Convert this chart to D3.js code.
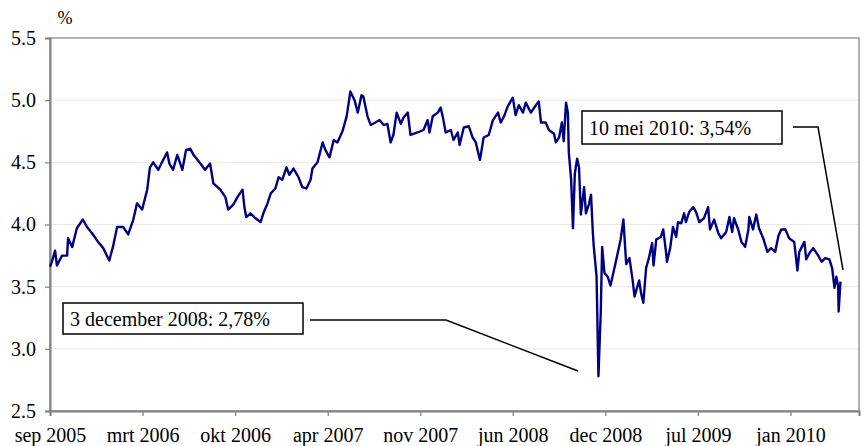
<!DOCTYPE html>
<html>
<head>
<meta charset="utf-8">
<script src="https://cdn.jsdelivr.net/npm/d3@7"></script>
<style>
  html, body { margin: 0; padding: 0; background: #fff; }
  svg { display: block; font-family: "Liberation Serif", "Times New Roman", serif; }
</style>
</head>
<body>
<svg id="chart" width="864" height="446"></svg>
<script>
// rente (%) per datum
const dates = [
  '2005-09-05', '2005-09-09', '2005-09-16', '2005-09-20', '2005-10-01', '2005-10-12', '2005-10-14', '2005-10-23',
  '2005-11-02', '2005-11-15', '2005-11-24', '2005-12-05', '2005-12-16', '2005-12-29', '2006-01-11', '2006-01-19',
  '2006-01-28', '2006-02-10', '2006-02-21', '2006-03-04', '2006-03-12', '2006-03-23', '2006-04-03', '2006-04-09',
  '2006-04-16', '2006-04-27', '2006-05-05', '2006-05-16', '2006-05-21', '2006-05-29', '2006-06-07', '2006-06-18',
  '2006-06-26', '2006-07-05', '2006-07-12', '2006-07-27', '2006-08-06', '2006-08-17', '2006-08-24', '2006-09-08',
  '2006-09-19', '2006-09-25', '2006-10-06', '2006-10-15', '2006-10-26', '2006-10-30', '2006-11-03', '2006-11-12',
  '2006-11-23', '2006-12-04', '2006-12-10', '2006-12-19', '2006-12-26', '2007-01-05', '2007-01-12', '2007-01-20',
  '2007-01-29', '2007-02-04', '2007-02-13', '2007-02-24', '2007-03-04', '2007-03-13', '2007-03-22', '2007-03-26',
  '2007-04-06', '2007-04-17', '2007-04-23', '2007-05-02', '2007-05-11', '2007-05-19', '2007-05-30', '2007-06-08',
  '2007-06-16', '2007-06-25', '2007-07-02', '2007-07-10', '2007-07-14', '2007-07-23', '2007-07-30', '2007-08-09',
  '2007-08-18', '2007-08-27', '2007-09-04', '2007-09-11', '2007-09-17', '2007-09-24', '2007-10-03', '2007-10-09',
  '2007-10-18', '2007-10-24', '2007-11-08', '2007-11-21', '2007-11-30', '2007-12-04', '2007-12-11', '2007-12-22',
  '2007-12-28', '2008-01-02', '2008-01-08', '2008-01-19', '2008-01-25', '2008-02-03', '2008-02-07', '2008-02-16',
  '2008-02-27', '2008-03-06', '2008-03-13', '2008-03-22', '2008-03-30', '2008-04-10', '2008-04-19', '2008-04-30',
  '2008-05-06', '2008-05-13', '2008-05-21', '2008-06-01', '2008-06-07', '2008-06-14', '2008-06-23', '2008-06-29',
  '2008-07-10', '2008-07-21', '2008-07-27', '2008-08-01', '2008-08-11', '2008-08-18', '2008-08-29', '2008-09-02',
  '2008-09-09', '2008-09-15', '2008-09-19', '2008-09-24', '2008-09-28', '2008-09-30', '2008-10-05', '2008-10-09',
  '2008-10-13', '2008-10-18', '2008-10-22', '2008-10-26', '2008-11-02', '2008-11-06', '2008-11-13', '2008-11-17',
  '2008-11-21', '2008-11-23', '2008-11-29', '2008-12-03', '2008-12-08', '2008-12-11', '2008-12-16', '2008-12-23',
  '2008-12-29', '2009-01-09', '2009-01-20', '2009-01-26', '2009-02-01', '2009-02-08', '2009-02-15', '2009-02-19',
  '2009-03-01', '2009-03-05', '2009-03-10', '2009-03-16', '2009-03-22', '2009-03-29', '2009-04-01', '2009-04-07',
  '2009-04-17', '2009-04-22', '2009-04-28', '2009-04-30', '2009-05-07', '2009-05-13', '2009-05-20', '2009-05-24',
  '2009-05-31', '2009-06-06', '2009-06-10', '2009-06-17', '2009-06-26', '2009-07-02', '2009-07-09', '2009-07-19',
  '2009-07-28', '2009-08-01', '2009-08-10', '2009-08-19', '2009-08-25', '2009-09-05', '2009-09-12', '2009-09-18',
  '2009-09-22', '2009-10-01', '2009-10-08', '2009-10-16', '2009-10-23', '2009-10-25', '2009-11-02', '2009-11-09',
  '2009-11-15', '2009-11-24', '2009-12-03', '2009-12-11', '2009-12-20', '2009-12-27', '2010-01-02', '2010-01-11',
  '2010-01-19', '2010-01-30', '2010-02-06', '2010-02-10', '2010-02-21', '2010-02-25', '2010-03-04', '2010-03-12',
  '2010-03-23', '2010-03-30', '2010-04-07', '2010-04-16', '2010-04-22', '2010-04-27', '2010-05-01', '2010-05-05',
  '2010-05-06', '2010-05-10',
];

const rates = [
  3.66, 3.70, 3.79, 3.67, 3.75, 3.75, 3.89, 3.82,
  3.97, 4.04, 3.98, 3.93, 3.87, 3.81, 3.71, 3.82,
  3.98, 3.98, 3.92, 4.04, 4.17, 4.12, 4.28, 4.46,
  4.50, 4.44, 4.50, 4.58, 4.49, 4.44, 4.56, 4.44,
  4.60, 4.61, 4.56, 4.49, 4.44, 4.49, 4.33, 4.28,
  4.22, 4.12, 4.16, 4.22, 4.28, 4.14, 4.06, 4.09,
  4.05, 4.02, 4.09, 4.17, 4.25, 4.29, 4.38, 4.36,
  4.46, 4.40, 4.45, 4.38, 4.30, 4.29, 4.36, 4.45,
  4.50, 4.66, 4.60, 4.54, 4.68, 4.66, 4.75, 4.87,
  5.07, 5.00, 4.90, 5.04, 5.03, 4.87, 4.80, 4.82,
  4.84, 4.80, 4.81, 4.66, 4.72, 4.90, 4.81, 4.86,
  4.90, 4.72, 4.74, 4.76, 4.84, 4.74, 4.87, 4.90,
  4.94, 4.86, 4.74, 4.76, 4.68, 4.74, 4.64, 4.78,
  4.79, 4.70, 4.66, 4.52, 4.70, 4.72, 4.84, 4.90,
  4.82, 4.87, 4.95, 5.02, 4.88, 4.96, 4.90, 4.98,
  4.90, 4.96, 4.99, 4.82, 4.82, 4.76, 4.73, 4.66,
  4.70, 4.82, 4.67, 4.98, 4.90, 4.58, 4.36, 3.97,
  4.41, 4.53, 4.46, 4.08, 4.30, 4.09, 4.17, 4.24,
  3.93, 3.82, 3.58, 2.78, 3.29, 3.82, 3.61, 3.58,
  3.51, 3.69, 3.88, 4.04, 3.68, 3.73, 3.55, 3.42,
  3.55, 3.45, 3.37, 3.65, 3.73, 3.85, 3.67, 3.88,
  3.90, 3.96, 3.78, 3.70, 3.81, 3.98, 3.90, 4.02,
  4.01, 4.09, 4.02, 4.10, 4.14, 4.10, 4.02, 4.05,
  4.14, 3.96, 4.04, 3.93, 3.89, 3.94, 4.06, 3.94,
  4.05, 3.96, 3.86, 3.82, 3.96, 4.06, 3.96, 4.08,
  3.97, 3.89, 3.78, 3.81, 3.78, 3.91, 3.96, 3.96,
  3.89, 3.86, 3.63, 3.78, 3.86, 3.72, 3.77, 3.81,
  3.75, 3.70, 3.73, 3.72, 3.65, 3.49, 3.58, 3.50,
  3.30, 3.54,
];

const tickDates = ['2005-09-05', '2006-03-24', '2006-10-10', '2007-04-28', '2007-11-14',
  '2008-06-01', '2008-12-18', '2009-07-06', '2010-01-22'];
const tickLabels = ['sep 2005', 'mrt 2006', 'okt 2006', 'apr 2007', 'nov 2007',
  'jun 2008', 'dec 2008', 'jul 2009', 'jan 2010'];
const yTicks = [2.5, 3.0, 3.5, 4.0, 4.5, 5.0, 5.5];

const parse = d3.timeParse('%Y-%m-%d');
const data = dates.map((d, i) => ({ date: parse(d), value: rates[i] }));

const margin = { top: 38, right: 5, bottom: 35, left: 50 };
const W = 864;
const H = 446;

const x = d3.scaleTime()
  .domain([parse('2005-09-05'), parse('2010-06-19')])
  .range([margin.left, W - margin.right]);

const y = d3.scaleLinear()
  .domain([2.5, 5.5])
  .range([H - margin.bottom, margin.top]);

const svg = d3.select('#chart');

// gridlines
svg.append('g')
  .selectAll('line')
  .data(yTicks.slice(1, -1))
  .join('line')
  .attr('x1', margin.left)
  .attr('x2', W - margin.right)
  .attr('y1', (d) => y(d))
  .attr('y2', (d) => y(d))
  .attr('stroke', '#e9e9e9')
  .attr('stroke-width', 1);

// frame
svg.append('rect')
  .attr('x', margin.left)
  .attr('y', margin.top)
  .attr('width', W - margin.right - margin.left)
  .attr('height', H - margin.bottom - margin.top)
  .attr('fill', 'none')
  .attr('stroke', '#9a9a9a')
  .attr('stroke-width', 1.5);

// y axis
const yAxis = svg.append('g')
  .attr('transform', `translate(${margin.left},0)`)
  .call(d3.axisLeft(y).tickValues(yTicks).tickFormat(d3.format('.1f')).tickSize(5).tickPadding(9));

// x axis
const xAxis = svg.append('g')
  .attr('transform', `translate(0,${H - margin.bottom})`)
  .call(d3.axisBottom(x)
    .tickValues(tickDates.map(parse))
    .tickFormat((d, i) => tickLabels[i])
    .tickSize(5)
    .tickPadding(12));

[yAxis, xAxis].forEach((ax) => {
  ax.select('.domain').attr('stroke', '#808080').attr('stroke-width', 2);
  ax.selectAll('.tick line').attr('stroke', '#808080').attr('stroke-width', 1.2);
  ax.selectAll('text')
    .attr('fill', '#000')
    .style('font-family', '"Liberation Serif", "Times New Roman", serif')
    .style('font-size', '20px');
});

svg.append('text')
  .attr('x', 65)
  .attr('y', 24)
  .attr('text-anchor', 'middle')
  .style('font-size', '18px')
  .text('%');

// rentelijn
const line = d3.line()
  .x((d) => x(d.date))
  .y((d) => y(d.value));

svg.append('path')
  .datum(data)
  .attr('d', line)
  .attr('fill', 'none')
  .attr('stroke', '#000080')
  .attr('stroke-width', 2.4)
  .attr('stroke-linejoin', 'round');

// annotaties
const notes = [
  { text: '3 december 2008: 2,78%', box: [63, 303, 240, 31], path: [[310, 320], [446, 320], [578, 371]] },
  { text: '10 mei 2010: 3,54%', box: [582, 111, 200, 33], path: [[793, 127], [818, 127], [843, 270]] },
];

const note = svg.append('g')
  .selectAll('g')
  .data(notes)
  .join('g');

note.append('rect')
  .attr('x', (d) => d.box[0])
  .attr('y', (d) => d.box[1])
  .attr('width', (d) => d.box[2])
  .attr('height', (d) => d.box[3])
  .attr('fill', '#fff')
  .attr('stroke', '#000')
  .attr('stroke-width', 1.5);

note.append('text')
  .attr('x', (d) => d.box[0] + 7)
  .attr('y', (d) => d.box[1] + d.box[3] / 2 + 7)
  .style('font-size', '20px')
  .text((d) => d.text);

note.append('path')
  .attr('d', (d) => d3.line()(d.path))
  .attr('fill', 'none')
  .attr('stroke', '#000')
  .attr('stroke-width', 1.5);
</script>
</body>
</html>
